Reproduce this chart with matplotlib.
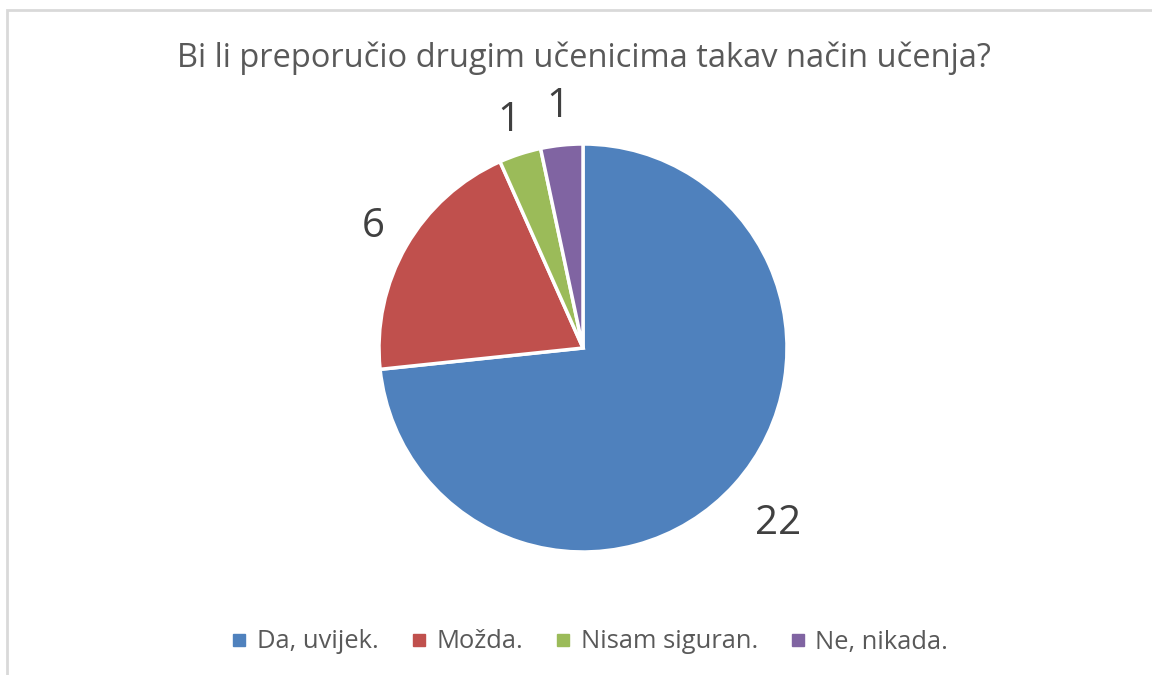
import matplotlib
matplotlib.use("Agg")
import matplotlib.pyplot as plt
import numpy as np
from matplotlib.lines import Line2D
from matplotlib.patches import Rectangle

plt.rcParams['font.family'] = ['Open Sans', 'DejaVu Sans']

title = "Bi li preporučio drugim učenicima takav način učenja?"
categories = ["Da, uvijek.", "Možda.", "Nisam siguran.", "Ne, nikada."]
values = [22, 6, 1, 1]
colors = ["#4F81BD", "#C0504D", "#9BBB59", "#8064A2"]
label_dist = [1.29, 1.19, 1.17, 1.19]

W, H = 1152, 675
fig = plt.figure(figsize=(W / 100, H / 100), dpi=100)
fig.patch.set_facecolor("white")

# chart border (left & top visible)
fig.add_artist(Rectangle((7 / W, -0.1), 1.2, (H - 10) / H + 0.1, transform=fig.transFigure,
                         fill=False, edgecolor="#D9D9D9", linewidth=2))

cx, cy, R = 583, 348, 204
ax = fig.add_axes([(cx - R) / W, (H - cy - R) / H, 2 * R / W, 2 * R / H])

wedges, _ = ax.pie(values, colors=colors, startangle=90, counterclock=False, radius=1,
                   wedgeprops=dict(edgecolor="white", linewidth=2.5))
ax.set_xlim(-1, 1)
ax.set_ylim(-1, 1)
ax.set_aspect("equal")
ax.axis("off")
for w, v, d in zip(wedges, values, label_dist):
    ang = np.deg2rad((w.theta1 + w.theta2) / 2)
    ax.text(d * np.cos(ang), d * np.sin(ang), str(v), ha="center", va="center",
            fontsize=29, color="#404040", clip_on=False)

fig.text(584 / W, 1 - 58 / H, title, ha="center", va="center", fontsize=23.5, color="#595959")

handles = [Line2D([], [], marker="s", linestyle="none", markersize=8, markerfacecolor=c,
                  markeredgecolor=c) for c in colors]
fig.legend(handles, categories, loc="center", bbox_to_anchor=(590 / W, 1 - 642 / H), ncol=4,
           frameon=False, fontsize=18.4, handlelength=0.6, handletextpad=0.4, columnspacing=1.25,
           labelcolor="#595959")

fig.savefig("out.png", dpi=100, facecolor="white")
